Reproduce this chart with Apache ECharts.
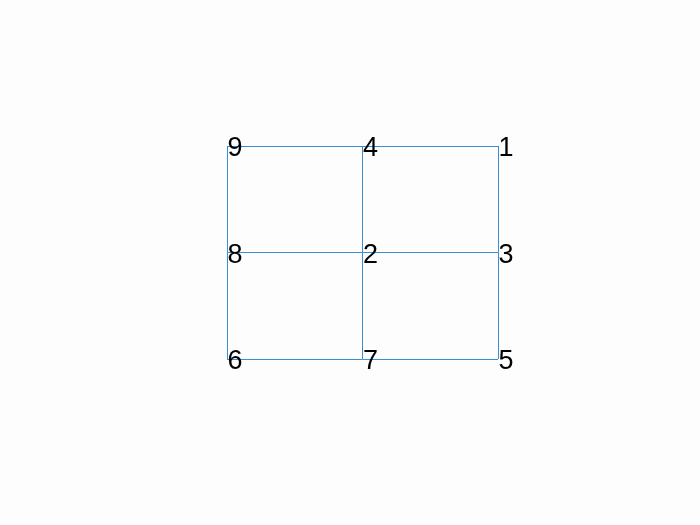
<!DOCTYPE HTML>
<html>
<head>
<meta charset="UTF-8">
<script src="https://cdn.jsdelivr.net/npm/echarts@6/dist/echarts.min.js"></script>
</head>
<body style="margin:0;background:#fdfdfd">
<div id="div_1" style="width:700px;height:525px"></div>
<script>
// node names and grid positions
var nodeNames = ['1', '2', '3', '4', '5', '6', '7', '8', '9'];
var nodeX = [2, 1, 2, 1, 2, 0, 1, 0, 0];
var nodeY = [2, 1, 1, 2, 0, 0, 0, 1, 2];
// edges between nodes
var edges = [['9', '4'], ['4', '1'], ['8', '2'], ['2', '3'], ['6', '7'], ['7', '5'],
             ['9', '8'], ['8', '6'], ['4', '2'], ['2', '7'], ['1', '3'], ['3', '5']];

var nodes = nodeNames.map(function (n, i) {
    return { name: n, value: [nodeX[i], nodeY[i]] };
});
var links = edges.map(function (e) { return { source: e[0], target: e[1] }; });

var myChart = echarts.init(document.getElementById('div_1'));
myChart.setOption({
    backgroundColor: '#fdfdfd',
    animation: false,
    grid: { left: 227, top: 146, width: 271, height: 213 },
    xAxis: { type: 'value', min: 0, max: 2, show: false },
    yAxis: { type: 'value', min: 0, max: 2, show: false },
    series: [{
        type: 'graph',
        coordinateSystem: 'cartesian2d',
        layout: 'none',
        symbolSize: 1,
        itemStyle: { color: 'rgba(0,0,0,0)' },
        data: nodes,
        links: links,
        lineStyle: { color: '#3a8fd0', width: 1, opacity: 1, curveness: 0 },
        label: {
            show: true,
            position: 'right',
            distance: 0,
            offset: [0, 3],
            fontFamily: 'Liberation Sans',
            fontSize: 27,
            color: '#000'
        },
        emphasis: { disabled: true }
    }]
});
</script>
</body>
</html>
